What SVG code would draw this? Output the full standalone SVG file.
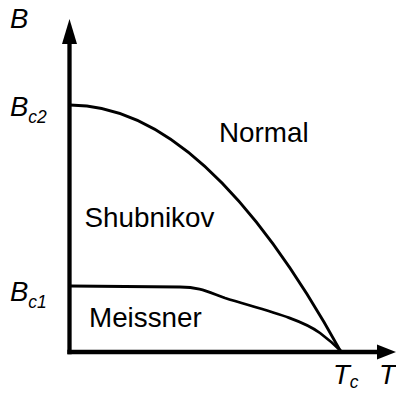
<svg xmlns="http://www.w3.org/2000/svg" width="396" height="393" viewBox="0 0 396 393">
<style>
.lbl{font-family:"Liberation Sans",Arial,sans-serif;font-size:27.8px;fill:#000}
.ax{font-family:"Liberation Sans",Arial,sans-serif;font-style:italic;font-size:27.5px;fill:#000}
.sub{font-family:"Liberation Sans",Arial,sans-serif;font-style:italic;font-size:17.5px;fill:#000}
.curve{fill:none;stroke:#000;stroke-width:2.8;stroke-linecap:round;stroke-linejoin:round}
.axis{fill:none;stroke:#000;stroke-width:4.3}
</style>
<rect width="396" height="393" fill="#fff"/>
<g id="connectors">
<path class="axis" d="M69.5 354.2 V40"/>
<polygon points="69.5,19 62,44 77,44" fill="#000"/>
<path class="axis" d="M67.4 352 H380"/>
<polygon points="396,352 377,344.5 377,359.5" fill="#000"/>
<path id="bc2-curve" class="curve" d="M70 105 Q205 105 341 352"/>
<path id="bc1-curve" class="curve" d="M70 286 L180 287 C200 287 208 292 225 298 C260 309 300 318 320 333 C332 342 338 348 342 352"/>
</g>
<g id="axis-B"><text class="ax" x="10" y="28">B</text></g>
<g id="axis-T"><text class="ax" x="379" y="384">T</text></g>
<g id="label-Bc2"><text class="ax" x="10" y="116">B<tspan class="sub" dy="6.5">c2</tspan></text></g>
<g id="label-Bc1"><text class="ax" x="10" y="301">B<tspan class="sub" dy="7">c1</tspan></text></g>
<g id="label-Tc"><text class="ax" x="333" y="384">T<tspan class="sub" dy="4">c</tspan></text></g>
<g id="region-normal"><text class="lbl" x="219" y="141.5">Normal</text></g>
<g id="region-shubnikov"><text class="lbl" x="84.5" y="226.5">Shubnikov</text></g>
<g id="region-meissner"><text class="lbl" x="89" y="327">Meissner</text></g>
</svg>
